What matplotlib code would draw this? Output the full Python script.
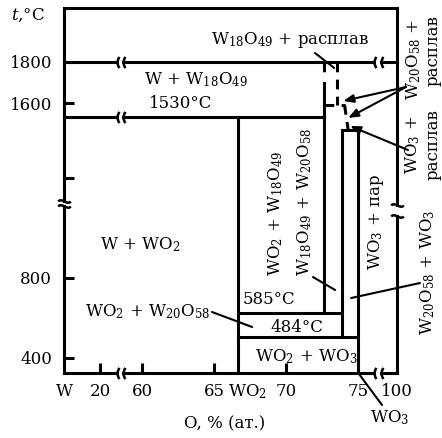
import numpy as np
import matplotlib
matplotlib.use('Agg')
import matplotlib.pyplot as plt
from matplotlib.path import Path

plt.rcParams['font.family'] = ['DejaVu Serif']
plt.rcParams['mathtext.fontset'] = 'dejavuserif'
plt.rcParams['font.size'] = 12

# ---------------- data (compositions in at.% O, temperatures in °C) ----------------
X_W = 0.0
X_WO2 = 66.67
X_W18O49 = 72.6
X_W20O58 = 73.9
X_WO3 = 75.0
X_MAX = 100.0
X_LIQ1 = 73.55      # dashed line from 1800 to peritectic
X_LIQ2 = 74.05      # dashed line from peritectic to WO3 melting
X_LIQ3 = 74.3

T_MIN, T_MAX = 325, 2060
T_1800 = 1800
T_1530 = 1530
T_W18_DASH_END = 1740
T_W18_SOLID_TOP = 1700
T_PERI = 1590
T_WO3_MELT = 1460
T_585 = 585
T_484 = 484

# axis breaks
X_BREAK1 = (29.4, 54.0)
X_BREAK2 = (76.1, 81.0)
Y_BREAK_L = (1097, 1115)
Y_BREAK_R = (1055, 1100)

# ticks
X_TICKS_MAJOR = [20, 60, 65, 70]
X_TICKS_MAJOR_LABELS = ['20', '60', '65', '70']
X_TICKS_MINOR = [0, 66.67, 75, 100]
X_TICKS_MINOR_LABELS = ['W', '', '75', '100']
WO2_LABEL = 'WO$_2$'
Y_TICKS = [400, 800, 1200, 1600, 1800]
Y_TICK_LABELS = ['400', '800', '', '1600', '1800']

# schematic piecewise scales
XC = [0, 30, 58.75, 76.3, 100]
XP = [0, 54, 60, 313, 333]
YT = [325, 400, 484, 585, 800, 1100, 1200, 1530, 1600, 1800, 2060]
YH = [0, 15, 36, 60, 95, 168, 195, 256, 270, 311, 365]

# ---------------- figure ----------------
W, H = 442, 438
fig = plt.figure(figsize=(W / 100, H / 100), dpi=100)
ax = fig.add_axes([64 / W, (H - 373) / H, 333 / W, 365 / H])


def fx(c):
    return np.interp(c, XC, XP)


def fx_inv(p):
    return np.interp(p, XP, XC)


def fy(t):
    return np.interp(t, YT, YH)


def fy_inv(h):
    return np.interp(h, YH, YT)


ax.set_xscale('function', functions=(fx, fx_inv))
ax.set_yscale('function', functions=(fy, fy_inv))
ax.set_xlim(X_W, X_MAX)
ax.set_ylim(T_MIN, T_MAX)
for s in ax.spines.values():
    s.set_visible(False)

LW = 2.2
kw = dict(color='k', lw=LW, clip_on=False, solid_capstyle='projecting',
          dash_capstyle='butt')


def hline(y, x0, x1, ls='-'):
    ax.plot([x0, x1], [y, y], ls=ls, **kw)


def vline(x, y0, y1, ls='-'):
    ax.plot([x, x], [y0, y1], ls=ls, **kw)


DASH = (0, (3.2, 2.4))

# frame
hline(T_MAX, X_W, X_MAX)
for (a, b) in [(X_W, X_BREAK1[0]), (X_BREAK1[1], X_BREAK2[0]), (X_BREAK2[1], X_MAX)]:
    hline(T_MIN, a, b)
    hline(T_1800, a, b)
vline(X_W, T_MIN, Y_BREAK_L[0])
vline(X_W, Y_BREAK_L[1], T_MAX)
vline(X_MAX, T_MIN, Y_BREAK_R[0])
vline(X_MAX, Y_BREAK_R[1], T_MAX)

# 1530 line
hline(T_1530, X_W, X_BREAK1[0])
hline(T_1530, X_BREAK1[1], X_W18O49)

# phase lines
vline(X_WO2, T_MIN, T_1530)
vline(X_W18O49, T_1800, T_W18_DASH_END, ls=DASH)
vline(X_W18O49, T_W18_SOLID_TOP, T_585)
vline(X_LIQ1, T_1800, T_PERI, ls=DASH)
hline(T_PERI, X_W18O49, X_LIQ2, ls=DASH)
ax.plot([X_LIQ2, X_LIQ3], [T_PERI, T_WO3_MELT], ls=DASH, **kw)
vline(X_W20O58, T_WO3_MELT, T_484)
hline(T_WO3_MELT, X_W20O58, X_WO3)
vline(X_WO3, T_MIN, T_WO3_MELT)
hline(T_585, X_WO2, X_W20O58)
hline(T_484, X_WO2, X_WO3)

# break markers
paren = Path([(0.35, -1), (-0.35, 0), (0.35, 1)],
             [Path.MOVETO, Path.CURVE3, Path.CURVE3])
tilde = Path([(-1, 0), (-0.4, 0.7), (0.4, -0.7), (1, 0)],
             [Path.MOVETO, Path.CURVE4, Path.CURVE4, Path.CURVE4])
mk = dict(ls='none', marker=paren, ms=8, mew=1.8, mfc='none', mec='k', clip_on=False)
for y in [T_MIN, T_1800, T_1530]:
    ax.plot(list(X_BREAK1), [y, y], **mk)
for y in [T_MIN, T_1800]:
    ax.plot(list(X_BREAK2), [y, y], **mk)
mk2 = dict(ls='none', marker=tilde, ms=9, mew=1.8, mfc='none', mec='k', clip_on=False)
ax.plot([X_W, X_W], list(Y_BREAK_L), **mk2)
ax.plot([X_MAX, X_MAX], list(Y_BREAK_R), **mk2)

# ticks
ax.set_xticks(X_TICKS_MAJOR, labels=X_TICKS_MAJOR_LABELS)
ax.set_xticks(X_TICKS_MINOR, labels=X_TICKS_MINOR_LABELS, minor=True)
ax.set_yticks(Y_TICKS, labels=Y_TICK_LABELS)
ax.set_yticks([], minor=True)
ax.tick_params(which='major', direction='in', length=7.5, width=LW, labelsize=12)
ax.tick_params(axis='x', which='minor', length=0, labelsize=12, pad=7)
ax.tick_params(axis='x', which='major', pad=7)
ax.tick_params(axis='y', which='major', pad=8.5)


def P(x, y):
    return (x / W, 1 - y / H)


def T(x, y, s, **k):
    k.setdefault('va', 'center')
    fig.text(*P(x, y), s, ha='center', **k)


# WO2 label sits just right of its line (as in the reference)
T(247, 382.7, WO2_LABEL, va='top')

T(28, 15, r'$t$,°C', fontsize=12)
T(225, 424, 'O, % (ат.)')
T(290, 40, r'W$_{18}$O$_{49}$ + расплав')
T(196, 80, r'W + W$_{18}$O$_{49}$')
T(181, 103, '1530°C')
T(140, 245, r'W + WO$_2$')
T(276, 213, r'WO$_2$ + W$_{18}$O$_{49}$', rotation=90)
T(305, 202, r'W$_{18}$O$_{49}$ + W$_{20}$O$_{58}$', rotation=90)
T(376, 222, r'WO$_3$ + пар', rotation=90)
T(269, 299, '585°C')
T(297, 328, '484°C')
T(306, 357, r'WO$_2$ + WO$_3$')
T(148, 312, r'WO$_2$ + W$_{20}$O$_{58}$')
T(414, 60, r'W$_{20}$O$_{58}$ +', rotation=90)
T(433, 50, 'расплав', rotation=90)
T(413, 145, r'WO$_3$ +', rotation=90)
T(433, 145, 'расплав', rotation=90)
T(428, 272, r'W$_{20}$O$_{58}$ + WO$_3$', rotation=90)
T(390, 418, r'WO$_3$')

# leader lines (targets in data units)
plain = dict(arrowstyle='-', lw=1.5, color='k', shrinkA=0, shrinkB=0)
arrow = dict(arrowstyle='-|>,head_length=0.5,head_width=0.2', lw=1.5, color='k',
             shrinkA=0, shrinkB=0)


def lead(xy, start, props):
    ax.annotate('', xy=xy, xycoords='data', xytext=P(*start),
                textcoords='figure fraction', arrowprops=props,
                annotation_clip=False)


lead((73.33, 1771), (315, 53), plain)
lead((73.96, 1610), (406, 87), arrow)
lead((74.3, 1525), (406, 87), arrow)
lead((74.44, 1481), (408, 150), arrow)
lead((67.64, 526), (212, 312), plain)
lead((73.4, 726), (313, 277), plain)
lead((74.5, 677), (420, 283), plain)
lead((X_WO3, T_MIN), (382, 405), plain)

fig.savefig('out.png', dpi=100)
